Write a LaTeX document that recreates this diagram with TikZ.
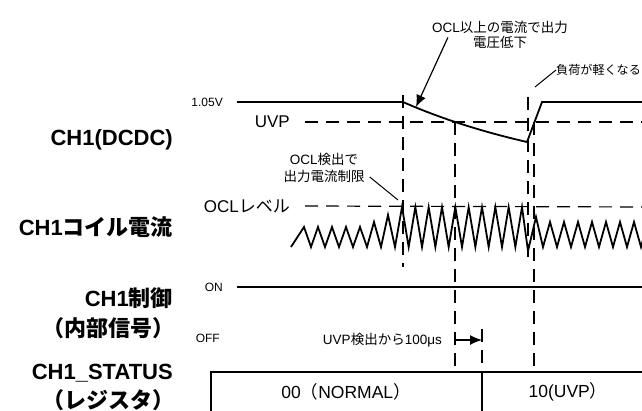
\documentclass[tikz,border=0pt]{standalone}
\usepackage{fontspec}
\setmainfont{Liberation Sans}
\newfontfamily\jp{Noto Sans CJK JP}
\usepackage{tikz}
\usetikzlibrary{positioning,arrows.meta,calc}

\begin{document}
\begin{tikzpicture}[x=1pt,y=-1pt,
      sig/.style={line width=1.8pt,line join=miter},
      guide/.style={line width=1.2pt,dash pattern=on 13pt off 8pt},
      chname/.style={font=\fontsize{22}{24}\selectfont\bfseries,anchor=east,inner sep=0pt},
      lvl/.style={font=\fontsize{12}{14}\selectfont,anchor=east,inner sep=0pt},
      lvlbig/.style={font=\fontsize{17}{19}\selectfont,anchor=east,inner sep=0pt},
      note/.style={font=\fontsize{13.5}{16}\selectfont,align=center,inner sep=0pt},
      lead/.style={line width=1pt},
      pointer/.style={line width=1.2pt,-{Latex[length=12pt,width=10pt]}},
      reg/.style={line width=1.3pt}]
    \useasboundingbox (0,0) rectangle (642,410);

    % channel names
    \node[chname] (dcdc) at (173,140) {CH1(DCDC)};
    \node[chname] (coil) at (173,227) {CH1{\jp コイル電流}};
    \node[chname] (ctrl) at (173,298) {CH1{\jp 制御}};
    \node[chname] (ctrlsub) at (175,328) {{\jp （内部信号）}};
    \node[chname] (stat) at (173,373) {CH1\_STATUS};
    \node[chname] (statsub) at (175,400) {{\jp （レジスタ）}};

    % levels
    \node[lvl] (v105) at (223,102) {1.05V};
    \node[lvlbig] (uvp) at (290,122) {UVP};
    \node[lvlbig] (ocl) at (290,206) {OCL{\jp レベル}};
    \node[lvl] (on) at (223,287) {ON};
    \node[lvl] (off) at (220,338) {OFF};

    \draw[guide] ([xshift=15pt]uvp.east) -- (650,122);
    \draw[guide] ([xshift=15pt]ocl.east) -- (650,207);

    % output voltage
    \draw[sig] ([xshift=14pt]v105.east) -- (403,102)
      .. controls (444,120) and (486,132.5) .. (527,142) -- (542,102) -- (650,102);
    % coil current
    \draw[sig] (291,247)
      \foreach \k in {0,...,4} { -- ({304+14*\k},227) -- ({311+14*\k},247) }
      -- (374,222) -- (381,247) -- (388,215) -- (395,247) -- (402,207)
      \foreach \k in {0,...,8} { -- ({408.67+13.333*\k},247) -- ({415.33+13.333*\k},207) }
      -- (528,251) -- (536,217)
      \foreach \k in {0,...,7} { -- ({543+14*\k},247) -- ({550+14*\k},222) };
    % control
    \draw[sig] ([xshift=14pt]on.east) -- (650,287);

    % timing guides
    \draw[guide] (403,95) -- (403,267);
    \draw[guide] (455,122) -- (455,372);
    \draw[guide] (528,97) -- (528,260);
    \draw[guide] (534,122) -- (534,372);
    \draw[guide] (482,329) -- (482,372);

    % status register
    \draw[reg] (211,415) |- (650,372);
    \draw[reg] (482,372) -- (482,415);
    \node[font=\fontsize{17.5}{20}\selectfont] (normal) at (346,392) {00{\jp （}NORMAL{\jp ）}};
    \node[font=\fontsize{17.5}{20}\selectfont] (uvpst) at (568,392) {10(UVP{\jp ）}};

    % notes
    \node[note,font=\fontsize{13.5}{15}\selectfont] (oclnote) at (500,34.5)
      {OCL{\jp 以上の電流で出力}\\{\jp 電圧低下}};
    \coordinate (droptip) at (416,107);
    \draw[pointer] ([xshift=16pt,yshift=11pt]oclnote.south west) -- (droptip);

    \node[note,font=\fontsize{13.5}{17}\selectfont] (ocldet) at (324,168)
      {OCL{\jp 検出で}\\{\jp 出力電流制限}};
    \coordinate (ocltouch) at (398,200);
    \draw[lead] ([xshift=5pt,yshift=6pt]ocldet.south east) -- (ocltouch);

    \node[note,anchor=west,font=\fontsize{12.1}{14}\selectfont] (light) at (556,70) {{\jp 負荷が軽くなる}};
    \coordinate (lightpt) at (535,87);
    \draw[lead] (light.west) -- (lightpt);

    \node[note,anchor=east] (delay) at (442,340) {UVP{\jp 検出から}100μs};
    \coordinate (uvptrip) at (482,340);
    \draw[pointer] ([xshift=14pt]delay.east) -- (uvptrip);
  \end{tikzpicture}
\end{document}
